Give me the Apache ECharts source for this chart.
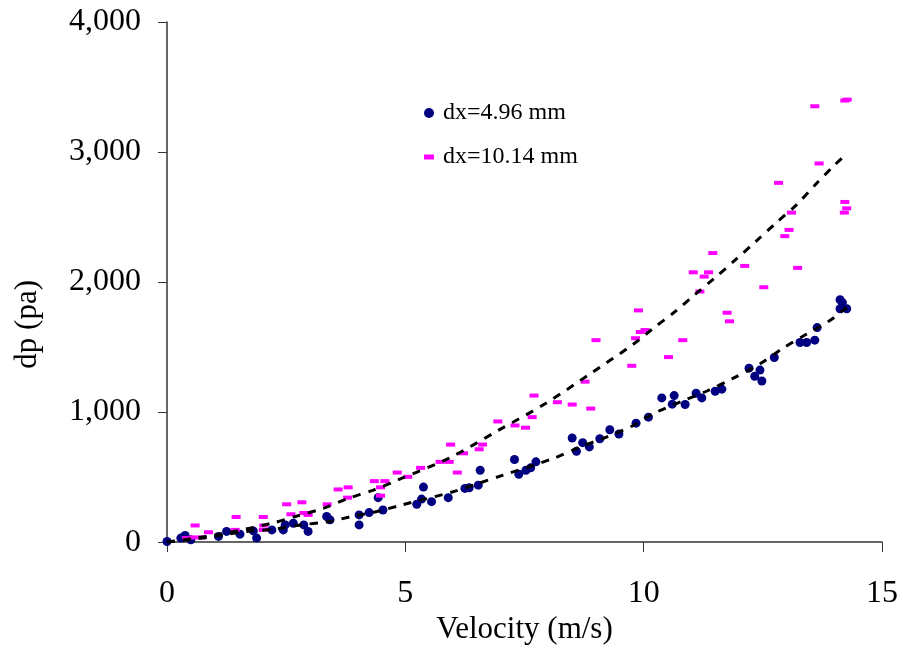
<!DOCTYPE html>
<html>
<head>
<meta charset="utf-8">
<script src="https://cdn.jsdelivr.net/npm/echarts@6/dist/echarts.min.js"></script>
<style>html,body{margin:0;padding:0;background:#fff}#c{width:903px;height:650px}</style>
</head>
<body>
<div id="c"></div>
<script>
// dx = 4.96 mm : [velocity (m/s), dp (pa)]
var smallGap = [
  [0,5],[0.29,31],[0.38,51],[0.50,18],[1.08,44],[1.25,82],[1.53,61],[1.81,86],[1.88,31],
  [2.20,94],[2.44,94],[2.48,132],[2.65,145],[2.87,132],[2.96,82],[3.35,197],[3.42,171],
  [4.03,209],[4.03,132],[4.24,227],[4.43,342],[4.53,247],[5.24,291],[5.34,331],[5.55,311],
  [5.38,423],[5.90,342],[6.25,413],[6.34,418],[6.53,438],[6.57,553],[7.29,635],[7.38,522],
  [7.53,553],[7.63,571],[7.74,617],[8.50,801],[8.72,765],[8.59,698],[8.86,732],[9.08,795],
  [9.29,864],[9.48,831],[9.84,915],[10.10,961],[10.38,1109],[10.64,1127],[10.60,1061],
  [10.87,1058],[11.10,1145],[11.22,1109],[11.50,1160],[11.64,1176],[12.21,1338],[12.44,1323],
  [12.33,1275],[12.48,1239],[12.74,1420],[13.28,1535],[13.42,1535],[13.59,1553],[13.64,1650],
  [14.12,1864],[14.17,1841],[14.12,1795],[14.26,1795]
];
// dx = 10.14 mm
var largeGap = [
  [0.59,128],[0.41,31],[0.55,36],[0.73,36],[0.87,76],[1.45,193],[1.43,94],[2.02,193],[2.03,128],
  [2.02,94],[2.51,291],[2.60,214],[2.83,306],[2.87,224],[2.96,209],[3.36,291],[3.59,405],
  [3.80,421],[3.79,342],[4.35,469],[4.48,421],[4.57,469],[4.48,357],[4.83,535],[5.05,502],
  [5.32,571],[5.73,617],[5.92,617],[6.09,535],[5.95,750],[6.22,683],[6.55,714],[6.62,750],
  [6.94,928],[7.30,897],[7.52,880],[7.66,961],[7.70,1127],[8.19,1076],[8.50,1058],[8.89,1027],
  [8.77,1234],[9.75,1356],[9.00,1553],[9.83,1568],[9.93,1616],[10.03,1631],[9.89,1782],
  [10.52,1423],[10.82,1553],[11.18,1927],[11.04,2075],[11.27,2042],[11.36,2075],[11.45,2223],
  [11.75,1764],[11.80,1698],[12.12,2124],[12.52,1960],[12.96,2353],[13.05,2401],[13.23,2109],
  [12.83,2763],[13.10,2534],[13.68,2912],[13.59,3352],[14.22,3396],[14.27,3403],[14.22,2616],
  [14.26,2567],[14.21,2534]
];
// trend lines
var smallTrend = [
  [0,0],[0.62,25],[1.18,56],[1.68,82],[2.26,100],[2.79,132],[3.35,155],[3.87,196],[4.4,235],
  [4.92,285],[6.0,387],[6.53,451],[7.05,515],[8.13,647],[8.66,731],[9.22,808],[9.78,897],
  [10.19,986],[10.78,1080],[11.34,1164],[11.87,1259],[12.43,1368],[12.92,1490],[13.41,1598],
  [13.93,1710],[14.26,1805]
];
var largeTrend = [
  [0,0],[1.1,60],[2.2,145],[2.73,201],[3.28,260],[3.8,336],[4.33,400],[4.87,482],[5.93,648],
  [6.95,859],[7.96,1070],[8.9,1300],[9.78,1521],[10.19,1641],[10.65,1770],[11.05,1896],
  [11.49,2031],[11.91,2166],[12.35,2311],[12.78,2456],[13.2,2592],[13.61,2752],[14.0,2898],
  [14.27,2990]
];
var seriesNames = ['dx=4.96 mm', 'dx=10.14 mm'];
var xTicks = [0, 5, 10, 15];
var yTicks = [0, 1000, 2000, 3000, 4000];

var serif = '"Liberation Serif", "Times New Roman", serif';
var chart = echarts.init(document.getElementById('c'), null, {renderer: 'canvas'});
chart.setOption({
  backgroundColor: '#fff',
  animation: false,
  grid: {left: 167, right: 21, top: 22, bottom: 106},
  legend: {
    orient: 'vertical', left: 419, top: 96, itemGap: 20, itemWidth: 10, itemHeight: 10,
    textStyle: {fontFamily: serif, fontSize: 24, color: '#000', padding: [0, 0, 0, 4]},
    data: [
      {name: seriesNames[0], icon: 'circle', itemStyle: {color: '#000080'}},
      {name: seriesNames[1], icon: 'path://M0,0h8v4h-8z', itemStyle: {color: '#ff00ff'}}
    ]
  },
  xAxis: {
    type: 'value', min: xTicks[0], max: xTicks[xTicks.length-1], interval: 5,
    name: 'Velocity (m/s)', nameLocation: 'middle', nameGap: 70,
    nameTextStyle: {fontFamily: serif, fontSize: 31, color: '#000'},
    axisLine: {lineStyle: {color: '#333', width: 1.5}},
    axisTick: {show: true, inside: false, length: 10, lineStyle: {color: '#333'}},
    axisLabel: {fontFamily: serif, fontSize: 32, color: '#000', margin: 35},
    splitLine: {show: false}
  },
  yAxis: {
    type: 'value', min: yTicks[0], max: yTicks[yTicks.length-1], interval: 1000,
    axisLine: {show: true, lineStyle: {color: '#333', width: 1.5}},
    axisTick: {show: true, length: 9, lineStyle: {color: '#333'}},
    axisLabel: {fontFamily: serif, fontSize: 32, color: '#000', margin: 26,
      formatter: function (v) { return v.toLocaleString('en-US'); }},
    splitLine: {show: false}
  },
  graphic: [{
    type: 'text', left: 12, top: 280, rotation: Math.PI / 2,
    style: {text: 'dp (pa)', font: '31px ' + serif, fill: '#000'}
  }],
  series: [
    {name: seriesNames[0], type: 'scatter', data: smallGap, symbol: 'circle', symbolSize: 9,
     itemStyle: {color: '#000080', opacity: 1}, z: 3},
    {name: seriesNames[1], type: 'scatter', data: largeGap, symbol: 'rect', symbolSize: [9, 4],
     itemStyle: {color: '#ff00ff', opacity: 1}, z: 3},
    {name: 'trend1', type: 'line', data: smallTrend, showSymbol: false, smooth: 0.3,
     lineStyle: {color: '#000', width: 3, type: [8, 8]}, z: 4},
    {name: 'trend2', type: 'line', data: largeTrend, showSymbol: false, smooth: 0.3,
     lineStyle: {color: '#000', width: 3, type: [8, 8]}, z: 4}
  ]
});
</script>
</body>
</html>
